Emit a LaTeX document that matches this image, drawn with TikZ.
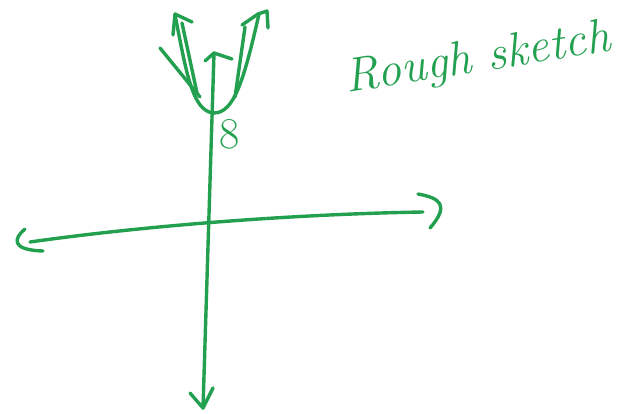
\documentclass[tikz,border=0pt]{standalone}
\usepackage{xcolor}
\usepackage{tikz}
\usetikzlibrary{calc}
\definecolor{markergreen}{HTML}{22A04F}

\begin{document}
\begin{tikzpicture}[x=1pt,y=-1pt]
  \tikzset{pen/.style={markergreen,line width=3.4pt,line cap=round,line join=round}}
  \useasboundingbox (0,0) rectangle (636,414);
  % axes
  \coordinate (xl) at (30,242);
  \coordinate (xr) at (423,212);
  \coordinate (yt) at (214,53);
  \coordinate (yb) at (203,408);
  \draw[pen] (xl) .. controls (150,225) and (300,214) .. (xr);
  \draw[pen] (yt) -- (yb);
  \draw[pen] (25,229) .. controls (14,238) and (10,250) .. (43,251);
  \draw[pen] (418,194) .. controls (440,198) and (450,205) .. (430,228);
  \draw[pen] (190,393) -- (yb) -- (213,388);
  \draw[pen] (205,61) -- (yt) -- (232,59);
  % parabola
  \coordinate (vtx) at (214,113);
  \draw[pen] (175,15) .. controls (186,70) and (192,112) .. (vtx) .. controls (234,113) and (244,80) .. (259,14);
  \draw[pen] (182,23) -- (197,93);
  \draw[pen] (245,27) -- (235,97);
  \draw[pen] (160,48) -- (200,97);
  \draw[pen] (173,35) -- (175,14) -- (192,22);
  \draw[pen] (242,25) -- (258,14) -- (267,11) -- (268,28);
  \node[markergreen,font=\fontsize{44}{44}\selectfont] (eight) at (230,134) {8};
  \node[markergreen,rotate=9,font=\fontsize{48}{48}\selectfont\itshape,anchor=center] (title) at (478,60) {Rough sketch};
\end{tikzpicture}
\end{document}
